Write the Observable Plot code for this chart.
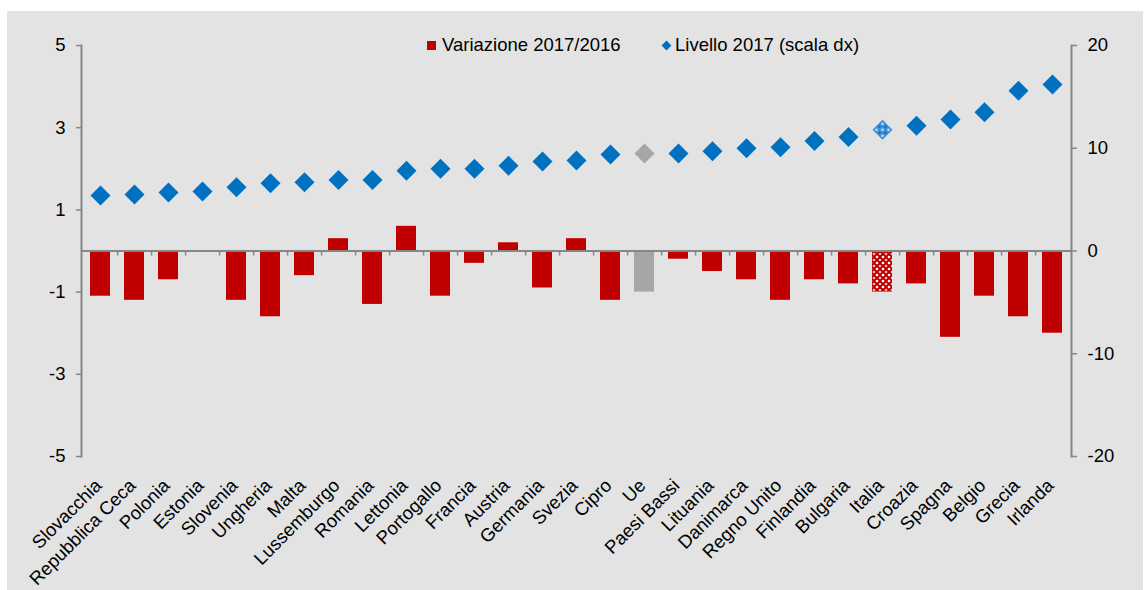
<!DOCTYPE html>
<html>
<head>
<meta charset="utf-8">
<script src="https://cdn.jsdelivr.net/npm/d3@7"></script>
<script src="https://cdn.jsdelivr.net/npm/@observablehq/plot@0.6"></script>
<style>
  html, body { margin: 0; padding: 0; background: #ffffff; }
  #wrap { position: relative; width: 1147px; height: 590px; overflow: hidden; font-family: "Liberation Sans", Arial, sans-serif; }
  #panel { position: absolute; left: 7px; top: 11px; width: 1136px; height: 579px; background: #e3e3e3; }
  #chart svg { display: block; background: transparent; }
  .leg { position: absolute; top: 35px; font-size: 18.5px; line-height: 20px; color: #000; white-space: nowrap; }
  .leg .sq { display: inline-block; width: 9px; height: 9px; background: #c00000; margin-right: 6px; vertical-align: 1px; }
  .leg .dm { display: inline-block; width: 7px; height: 7px; background: #0070c0; transform: rotate(45deg); margin: 0 5px 0 2px; vertical-align: 2px; }
</style>
</head>
<body>
<div id="wrap">
  <div id="panel"><div id="chart"></div></div>
  <div class="leg" style="left:427px"><span class="sq"></span>Variazione 2017/2016</div>
  <div class="leg" style="left:661px"><span class="dm"></span>Livello 2017 (scala dx)</div>
</div>
<script>
const categories = ["Slovacchia","Repubblica Ceca","Polonia","Estonia","Slovenia","Ungheria","Malta","Lussemburgo","Romania","Lettonia","Portogallo","Francia","Austria","Germania","Svezia","Cipro","Ue","Paesi Bassi","Lituania","Danimarca","Regno Unito","Finlandia","Bulgaria","Italia","Croazia","Spagna","Belgio","Grecia","Irlanda"];
const variazione = [-1.1,-1.2,-0.7,0,-1.2,-1.6,-0.6,0.3,-1.3,0.6,-1.1,-0.3,0.2,-0.9,0.3,-1.2,-1.0,-0.2,-0.5,-0.7,-1.2,-0.7,-0.8,-1.0,-0.8,-2.1,-1.1,-1.6,-2.0];
const livello = [5.4,5.5,5.7,5.8,6.2,6.6,6.7,6.9,6.9,7.8,8.0,8.0,8.3,8.7,8.8,9.4,9.5,9.5,9.7,10.0,10.1,10.7,11.1,11.8,12.2,12.8,13.5,15.6,16.2];
const leftTicks = [-5,-3,-1,1,3,5];
const rightTicks = [-20,-10,0,10,20];
const ratio = 4; // right scale / left scale

const data = categories.map((c, i) => ({paese: c, variazione: variazione[i], livello: livello[i]}));
const std = data.filter(d => d.paese !== "Ue" && d.paese !== "Italia");
const ue = data.filter(d => d.paese === "Ue");
const it = data.filter(d => d.paese === "Italia");

const axisColor = "#868686";
const fs = "18.5px";
const step = (1136 - 74 - 72) / categories.length;

const chart = Plot.plot({
  width: 1136,
  height: 579,
  marginLeft: 74,
  marginRight: 72,
  marginTop: 34,
  marginBottom: 134,
  style: {fontFamily: "'Liberation Sans', Arial, sans-serif", fontSize: fs, color: "#000", background: "transparent"},
  x: {domain: categories, paddingInner: 0.41, paddingOuter: 0.205, label: null},
  y: {domain: [-5, 5], label: null},
  marks: [
    Plot.barY(std, {x: "paese", y: "variazione", fill: "#c00000"}),
    Plot.barY(ue, {x: "paese", y: "variazione", fill: "#a6a6a6"}),
    Plot.barY(it, {x: "paese", y: "variazione", fill: "url(#redpat)"}),
    Plot.ruleY([0], {stroke: axisColor, strokeWidth: 2}),
    Plot.ruleX(data.slice(0, categories.length - 1), {x: "paese", y1: 0, y2: 0, dx: step / 2, insetBottom: -5, stroke: axisColor, strokeWidth: 1.5}),
    Plot.dot(std, {x: "paese", y: d => d.livello / ratio, symbol: "diamond2", r: 9, fill: "#0070c0", stroke: null}),
    Plot.dot(ue, {x: "paese", y: d => d.livello / ratio, symbol: "diamond2", r: 9, fill: "#a6a6a6", stroke: null}),
    Plot.dot(it, {x: "paese", y: d => d.livello / ratio, symbol: "diamond2", r: 9, fill: "url(#bluepat)", stroke: null}),
    Plot.frame({anchor: "left", stroke: axisColor, strokeWidth: 2}),
    Plot.frame({anchor: "right", stroke: axisColor, strokeWidth: 2}),
    Plot.axisY({anchor: "left", ticks: leftTicks, tickFormat: d => String(d), tickSize: 5, tickPadding: 11, stroke: axisColor, strokeWidth: 1.5, fontSize: fs, label: null}),
    Plot.axisY({anchor: "right", ticks: rightTicks.map(v => v / ratio), tickFormat: d => String(Math.round(d * ratio)), tickSize: 5, tickPadding: 11, stroke: axisColor, strokeWidth: 1.5, fontSize: fs, label: null}),
    Plot.axisX({anchor: "bottom", tickRotate: -45, tickSize: 0, tickPadding: 26, dx: -2, fontSize: fs, label: null})
  ]
});

const svg = d3.select(chart);
const defs = svg.insert("defs", ":first-child");
const rp = defs.append("pattern").attr("id", "redpat").attr("patternUnits", "userSpaceOnUse").attr("width", 6).attr("height", 6);
rp.append("rect").attr("width", 6).attr("height", 6).attr("fill", "#c00000");
rp.append("circle").attr("cx", 0).attr("cy", 0).attr("r", 1.3).attr("fill", "#ffffff");
rp.append("circle").attr("cx", 6).attr("cy", 0).attr("r", 1.3).attr("fill", "#ffffff");
rp.append("circle").attr("cx", 0).attr("cy", 6).attr("r", 1.3).attr("fill", "#ffffff");
rp.append("circle").attr("cx", 6).attr("cy", 6).attr("r", 1.3).attr("fill", "#ffffff");
rp.append("circle").attr("cx", 3).attr("cy", 3).attr("r", 1.3).attr("fill", "#f2b8b8");
const bp = defs.append("pattern").attr("id", "bluepat").attr("patternUnits", "userSpaceOnUse").attr("width", 6).attr("height", 6);
bp.append("rect").attr("width", 6).attr("height", 6).attr("fill", "#3d8fd6");
bp.append("circle").attr("cx", 0).attr("cy", 0).attr("r", 1.3).attr("fill", "#cfe3f5");
bp.append("circle").attr("cx", 6).attr("cy", 0).attr("r", 1.3).attr("fill", "#cfe3f5");
bp.append("circle").attr("cx", 0).attr("cy", 6).attr("r", 1.3).attr("fill", "#cfe3f5");
bp.append("circle").attr("cx", 6).attr("cy", 6).attr("r", 1.3).attr("fill", "#cfe3f5");
bp.append("circle").attr("cx", 3).attr("cy", 3).attr("r", 1.2).attr("fill", "#0070c0");

document.getElementById("chart").appendChild(chart);
</script>
</body>
</html>
